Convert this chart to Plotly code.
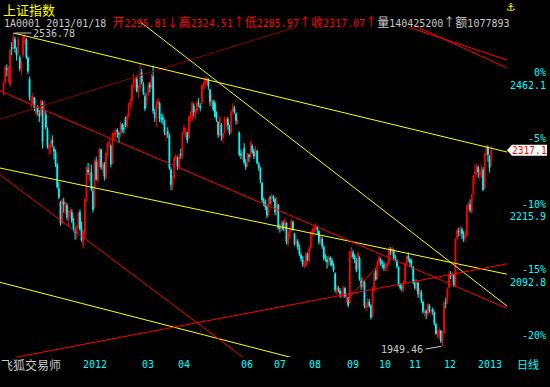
import plotly.graph_objects as go

# ---------------- data ----------------
months = ["2011-10", "2011-11", "2011-12", "2012-01", "2012-02", "2012-03", "2012-04",
          "2012-05", "2012-06", "2012-07", "2012-08", "2012-09", "2012-10", "2012-11",
          "2012-12", "2013-01"]
trade_days = [
    [27, 28, 31],
    [1, 2, 3, 4, 7, 8, 9, 10, 11, 14, 15, 16, 17, 18, 21, 22, 23, 24, 25, 28, 29, 30],
    [1, 2, 5, 6, 7, 8, 9, 12, 13, 14, 15, 16, 19, 20, 21, 22, 23, 26, 27, 28, 29, 30],
    [4, 5, 6, 9, 10, 11, 12, 13, 16, 17, 18, 19, 20, 30, 31],
    [1, 2, 3, 6, 7, 8, 9, 10, 13, 14, 15, 16, 17, 20, 21, 22, 23, 24, 27, 28, 29],
    [1, 2, 5, 6, 7, 8, 9, 12, 13, 14, 15, 16, 19, 20, 21, 22, 23, 26, 27, 28, 29, 30],
    [5, 6, 9, 10, 11, 12, 13, 16, 17, 18, 19, 20, 23, 24, 25, 26, 27],
    [2, 3, 4, 7, 8, 9, 10, 11, 14, 15, 16, 17, 18, 21, 22, 23, 24, 25, 28, 29, 30, 31],
    [1, 4, 5, 6, 7, 8, 11, 12, 13, 14, 15, 18, 19, 20, 21, 25, 26, 27, 28, 29],
    [2, 3, 4, 5, 6, 9, 10, 11, 12, 13, 16, 17, 18, 19, 20, 23, 24, 25, 26, 27, 30, 31],
    [1, 2, 3, 6, 7, 8, 9, 10, 13, 14, 15, 16, 17, 20, 21, 22, 23, 24, 27, 28, 29, 30, 31],
    [3, 4, 5, 6, 7, 10, 11, 12, 13, 14, 17, 18, 19, 20, 21, 24, 25, 26, 27, 28],
    [8, 9, 10, 11, 12, 15, 16, 17, 18, 19, 22, 23, 24, 25, 26, 29, 30, 31],
    [1, 2, 5, 6, 7, 8, 9, 12, 13, 14, 15, 16, 19, 20, 21, 22, 23, 26, 27, 28, 29, 30],
    [3, 4, 5, 6, 7, 10, 11, 12, 13, 14, 17, 18, 19, 20, 21, 24, 25, 26, 27, 28, 31],
    [4, 7, 8, 9, 10, 11, 14, 15, 16, 17, 18],
]

opens = [
    2430, 2445, 2470,
    2460, 2440, 2510, 2512, 2525, 2505, 2500, 2490, 2468, 2495, 2528, 2525, 2490, 2450, 2410, 2405, 2415, 2385, 2398, 2385, 2383, 2405,
    2385, 2383, 2355, 2320, 2325, 2335, 2320, 2312, 2290, 2245, 2220, 2180, 2220, 2212, 2213, 2185, 2200, 2200, 2183, 2165, 2160, 2173,
    2200, 2168, 2140, 2160, 2225, 2280, 2268, 2275, 2240, 2210, 2295, 2260, 2293, 2318, 2282,
    2290, 2265, 2310, 2330, 2325, 2292, 2345, 2347, 2355, 2348, 2345, 2365, 2358, 2375, 2362, 2380, 2403, 2410, 2440, 2445, 2450,
    2425, 2435, 2462, 2440, 2418, 2400, 2422, 2440, 2435, 2455, 2388, 2375, 2405, 2405, 2375, 2378, 2370, 2345, 2352, 2345, 2280, 2250,
    2265, 2300, 2300, 2285, 2310, 2305, 2352, 2355, 2350, 2340, 2378, 2375, 2400, 2385, 2390, 2405, 2400,
    2405, 2438, 2440, 2445, 2450, 2430, 2405, 2408, 2405, 2382, 2370, 2345, 2365, 2340, 2350, 2372, 2375, 2362, 2350, 2390, 2395, 2385,
    2370, 2350, 2310, 2305, 2320, 2292, 2290, 2308, 2305, 2325, 2315, 2310, 2315, 2290, 2283, 2255, 2222, 2218, 2210, 2195,
    2228, 2225, 2230, 2225, 2200, 2215, 2170, 2168, 2180, 2170, 2180, 2142, 2158, 2168, 2182, 2160, 2142, 2145, 2135, 2120, 2112, 2100,
    2100, 2120, 2110, 2133, 2160, 2165, 2172, 2172, 2165, 2145, 2150, 2135, 2115, 2112, 2105, 2115, 2110, 2100, 2085, 2052, 2058, 2053, 2045,
    2048, 2058, 2040, 2040, 2030, 2128, 2125, 2118, 2110, 2095, 2115, 2072, 2062, 2070, 2022, 2025, 2032, 2025, 2005, 2055,
    2090, 2078, 2108, 2112, 2105, 2102, 2095, 2100, 2105, 2130, 2125, 2130, 2115, 2110, 2097, 2065, 2060, 2055,
    2070, 2105, 2118, 2112, 2108, 2098, 2068, 2058, 2068, 2045, 2050, 2032, 2012, 2015, 2010, 2025, 2015, 2018, 2012, 1990, 1972, 1970,
    1978, 1955, 1975, 2030, 2032, 2060, 2085, 2080, 2082, 2062, 2152, 2165, 2162, 2168, 2158, 2150, 2158, 2212, 2215, 2200, 2235,
    2272, 2275, 2285, 2270, 2272, 2280, 2245, 2310, 2322, 2305, 2295.81,
]
highs = [
    2445, 2476, 2478,
    2475, 2506, 2520, 2536.78, 2530, 2510, 2530, 2495, 2485, 2532, 2535, 2527, 2493, 2455, 2420, 2425, 2417, 2400, 2402, 2392, 2412, 2410,
    2410, 2390, 2360, 2330, 2340, 2345, 2325, 2318, 2293, 2257, 2222, 2226, 2228, 2222, 2218, 2205, 2210, 2206, 2190, 2172, 2178, 2202,
    2206, 2183, 2168, 2226, 2286, 2293, 2285, 2290, 2250, 2300, 2305, 2300, 2322, 2320, 2295,
    2295, 2312, 2332, 2340, 2328, 2350, 2355, 2358, 2358, 2352, 2370, 2368, 2365, 2380, 2385, 2406, 2415, 2440, 2460, 2455, 2457,
    2440, 2478.38, 2470, 2445, 2425, 2425, 2445, 2445, 2460, 2476, 2395, 2410, 2415, 2408, 2385, 2385, 2375, 2355, 2360, 2348, 2285, 2270,
    2305, 2310, 2305, 2310, 2320, 2352, 2365, 2360, 2352, 2382, 2390, 2408, 2405, 2395, 2410, 2415, 2405,
    2440, 2445, 2453, 2455, 2452, 2432, 2420, 2412, 2410, 2390, 2372, 2380, 2368, 2350, 2380, 2378, 2380, 2365, 2392, 2405, 2400, 2388,
    2380, 2352, 2318, 2315, 2330, 2300, 2312, 2310, 2335, 2328, 2320, 2325, 2318, 2295, 2285, 2258, 2228, 2225, 2215, 2228,
    2232, 2235, 2233, 2228, 2230, 2216, 2178, 2185, 2185, 2190, 2182, 2165, 2172, 2188, 2185, 2162, 2155, 2150, 2140, 2125, 2118, 2110,
    2125, 2125, 2135, 2165, 2170, 2175, 2180, 2175, 2167, 2158, 2155, 2138, 2122, 2118, 2120, 2118, 2115, 2105, 2088, 2065, 2062, 2058, 2055,
    2062, 2060, 2048, 2042, 2128, 2135, 2130, 2122, 2115, 2126, 2118, 2078, 2080, 2072, 2032, 2040, 2038, 2028, 2060, 2090,
    2095, 2110, 2120, 2115, 2110, 2108, 2105, 2108, 2135, 2135, 2138, 2132, 2120, 2112, 2099, 2068, 2065, 2072,
    2106, 2120, 2125, 2115, 2112, 2100, 2075, 2075, 2070, 2058, 2055, 2035, 2020, 2018, 2030, 2028, 2020, 2022, 2015, 1993, 1980, 1985,
    1980, 1978, 2035, 2040, 2060, 2090, 2090, 2088, 2085, 2152, 2170, 2172, 2175, 2172, 2165, 2165, 2215, 2220, 2225, 2235, 2270,
    2290, 2292, 2288, 2282, 2290, 2285, 2312, 2327, 2326, 2308, 2324.51,
]
lows = [
    2420, 2440, 2455,
    2444, 2435, 2495, 2505, 2500, 2485, 2495, 2465, 2458, 2490, 2515, 2488, 2460, 2410, 2395, 2400, 2390, 2380, 2383, 2370, 2380, 2320,
    2375, 2355, 2320, 2308, 2310, 2322, 2300, 2285, 2245, 2225, 2175, 2178, 2200, 2198, 2185, 2175, 2190, 2180, 2165, 2149, 2150, 2170,
    2165, 2145, 2132.63, 2150, 2220, 2270, 2258, 2240, 2200, 2208, 2260, 2255, 2285, 2280, 2275,
    2260, 2262, 2305, 2322, 2285, 2290, 2338, 2340, 2340, 2330, 2342, 2350, 2348, 2360, 2358, 2378, 2395, 2405, 2435, 2430, 2425,
    2415, 2432, 2440, 2420, 2390, 2398, 2418, 2425, 2432, 2385, 2370, 2360, 2395, 2370, 2368, 2365, 2345, 2335, 2340, 2280, 2242, 2242,
    2262, 2295, 2280, 2280, 2300, 2300, 2345, 2340, 2330, 2338, 2370, 2372, 2380, 2375, 2385, 2398, 2390,
    2403, 2430, 2432, 2438, 2430, 2400, 2398, 2390, 2378, 2370, 2340, 2342, 2335, 2330, 2348, 2360, 2355, 2345, 2348, 2385, 2385, 2365,
    2365, 2305, 2300, 2298, 2290, 2280, 2285, 2295, 2302, 2310, 2300, 2305, 2290, 2278, 2255, 2220, 2212, 2205, 2190, 2192,
    2215, 2215, 2220, 2195, 2195, 2168, 2162, 2165, 2165, 2165, 2140, 2135, 2150, 2165, 2165, 2138, 2135, 2130, 2118, 2108, 2098, 2095,
    2098, 2108, 2105, 2130, 2155, 2160, 2165, 2160, 2140, 2140, 2132, 2110, 2108, 2095, 2100, 2100, 2098, 2088, 2050, 2045, 2050, 2040, 2040,
    2040, 2040, 2032, 2022, 2028, 2115, 2112, 2105, 2088, 2092, 2072, 2055, 2058, 2020, 2015, 2020, 2022, 1999, 2003, 2050,
    2072, 2075, 2100, 2100, 2095, 2090, 2090, 2090, 2102, 2120, 2118, 2110, 2108, 2095, 2062, 2055, 2052, 2050,
    2068, 2100, 2108, 2098, 2095, 2065, 2055, 2052, 2040, 2040, 2030, 2010, 2005, 2000, 2005, 2012, 2008, 2008, 1988, 1970, 1965, 1962,
    1955, 1949.46, 1972, 2020, 2028, 2058, 2075, 2070, 2060, 2060, 2148, 2155, 2155, 2150, 2145, 2145, 2155, 2205, 2200, 2198, 2232,
    2256, 2270, 2265, 2260, 2265, 2240, 2243, 2305, 2295, 2275, 2285.97,
]
closes = [
    2441, 2473, 2468,
    2470, 2505, 2507, 2528, 2508, 2495, 2524, 2470, 2481, 2529, 2531, 2491, 2465, 2416, 2412, 2418, 2395, 2397, 2389, 2380, 2409, 2333,
    2387, 2360, 2325, 2326, 2334, 2330, 2315, 2291, 2248, 2228, 2181, 2224, 2215, 2216, 2191, 2201, 2204, 2184, 2170, 2163, 2173, 2199,
    2169, 2148, 2164, 2225, 2285, 2276, 2275, 2244, 2206, 2298, 2263, 2294, 2319, 2285, 2292,
    2268, 2311, 2330, 2331, 2291, 2348, 2349, 2351, 2351, 2347, 2366, 2356, 2357, 2363, 2381, 2404, 2410, 2439, 2447, 2451, 2428,
    2434, 2460, 2445, 2425, 2395, 2420, 2439, 2435, 2454, 2391, 2378, 2405, 2410, 2376, 2375, 2375, 2350, 2349, 2347, 2284, 2252, 2262,
    2303, 2306, 2285, 2305, 2308, 2350, 2359, 2357, 2336, 2380, 2379, 2406, 2388, 2389, 2406, 2404, 2396,
    2438, 2440, 2452, 2451, 2437, 2408, 2411, 2394, 2380, 2374, 2346, 2378, 2344, 2348, 2378, 2374, 2364, 2349, 2389, 2399, 2389, 2372,
    2373, 2309, 2308, 2309, 2294, 2286, 2311, 2305, 2332, 2314, 2306, 2316, 2293, 2284, 2260, 2224, 2217, 2211, 2195, 2226,
    2227, 2229, 2227, 2201, 2224, 2171, 2170, 2182, 2169, 2185, 2145, 2161, 2170, 2184, 2168, 2141, 2148, 2136, 2122, 2114, 2103, 2103,
    2123, 2112, 2132, 2163, 2168, 2171, 2174, 2168, 2145, 2152, 2137, 2115, 2114, 2107, 2116, 2110, 2102, 2092, 2055, 2060, 2055, 2048, 2047,
    2059, 2043, 2043, 2026, 2127, 2128, 2117, 2113, 2092, 2123, 2075, 2062, 2073, 2024, 2026, 2033, 2025, 2004, 2056, 2086,
    2075, 2107, 2116, 2105, 2104, 2096, 2102, 2104, 2131, 2128, 2133, 2115, 2114, 2099, 2066, 2059, 2058, 2069,
    2104, 2117, 2114, 2106, 2105, 2069, 2059, 2070, 2047, 2053, 2035, 2014, 2017, 2011, 2028, 2016, 2017, 2014, 1992, 1973, 1974, 1980,
    1959, 1975, 2031, 2030, 2057, 2083, 2082, 2083, 2063, 2150, 2166, 2164, 2168, 2160, 2153, 2159, 2213, 2214, 2204, 2233, 2269,
    2276, 2285, 2276, 2275, 2283, 2243, 2311, 2325, 2309, 2284, 2317.07,
]

# hand-drawn trend lines: (start bar, start price, end bar, end price)
yellow_lines = [
    (6.0, 2536.78, 309.7, 2313.5),
    (84.0, 2558.0, 309.7, 2024.6),
    (-2.2, 2283.5, 309.7, 2084.3),
    (-2.2, 2069.1, 182.4, 1923.9),
]
red_lines = [
    (-2.2, 2428.0, 309.7, 2020.3),
    (-2.2, 1922.9, 309.7, 2103.8),
    (-2.2, 2270.9, 151.6, 1918.5),
    (210.0, 2030.3, 230.3, 2101.6),
    (249.4, 2547.5, 309.7, 2486.1),
    (255.0, 2547.5, 309.7, 2471.1),
]
darkred_lines = [
    (-2.2, 2375.4, 179.9, 2548.0),
]

# right-hand percentage scale
pct_base = 2462.1
pct_levels = [0, -5, -10, -15, -20]
pct_show_price = [True, False, True, True, False]

# month labels on the time axis
tick_months = ["2012-01", "2012-03", "2012-04", "2012-06", "2012-07", "2012-08",
               "2012-09", "2012-10", "2012-11", "2012-12", "2013-01"]
tick_text = ["2012", "03", "04", "06", "07", "08", "09", "10", "11", "12", "2013"]

header_title = "上证指数"
header_code = "1A0001 2013/01/18"
header_quote = "开2295.81↓高2324.51↑低2285.97↑收2317.07↑"
header_volume = "量140425200↑额1077893"

# ---------------- figure ----------------
dates = [f"{m}-{d:02d}" for m, ds in zip(months, trade_days) for d in ds]
bars = list(range(len(dates)))
assert len(dates) == len(opens) == len(highs) == len(lows) == len(closes)

W, H = 550, 387
ML, MR, MT, MB = 0, 43, 0, 30
PW, PH = W - ML - MR, H - MT - MB
X_RANGE = [-2.2, 309.7]
Y_RANGE = [1929.0, 2598.7]

def pxx(px):
    return (px - ML) / PW

def pxy(py):
    return (H - MB - py) / PH

MONO = "DejaVu Sans Mono, Liberation Mono, monospace"
CJK = "Noto Sans CJK SC"

def mixed(s, color):
    out = []
    for ch in s:
        if ord(ch) > 127:
            out.append(f'<span style="font-family:{CJK};font-size:12px">{ch}</span>')
        else:
            out.append(ch)
    return f'<span style="color:{color}">' + "".join(out) + "</span>"

fig = go.Figure()
fig.add_trace(go.Candlestick(
    x=bars, open=opens, high=highs, low=lows, close=closes,
    increasing=dict(line=dict(color="#ff0000", width=1), fillcolor="#ff0000"),
    decreasing=dict(line=dict(color="#00ffff", width=1), fillcolor="#00ffff"),
    whiskerwidth=0, hoverinfo="skip", showlegend=False,
))

for group, color in ((darkred_lines, "#8c0000"), (yellow_lines, "#ffff00"), (red_lines, "#ff0000")):
    for x0, y0, x1, y1 in group:
        fig.add_trace(go.Scatter(x=[x0, x1], y=[y0, y1], mode="lines",
                                 line=dict(color=color, width=1),
                                 hoverinfo="skip", showlegend=False))

ann = []
# header
ann.append(dict(text=header_title, x=pxx(1), y=pxy(9.5), xref="paper", yref="paper",
                xanchor="left", yanchor="middle", showarrow=False,
                font=dict(family=CJK, size=13, color="#ffff00")))
ann.append(dict(text=mixed(header_code + " ", "#c8c8c8") + mixed(header_quote, "#ff0000")
                + mixed(header_volume, "#c8c8c8"),
                x=pxx(2.3), y=pxy(21), xref="paper", yref="paper",
                xanchor="left", yanchor="middle", showarrow=False,
                font=dict(family=MONO, size=10, color="#c8c8c8")))
ann.append(dict(text="⚓", x=pxx(511.5), y=pxy(7.5), xref="paper", yref="paper",
                xanchor="center", yanchor="middle", showarrow=False,
                font=dict(family="DejaVu Sans", size=11, color="#ffff00")))

# extreme labels
hi_i = max(bars, key=lambda i: highs[i])
lo_i = min(bars, key=lambda i: lows[i])
ann.append(dict(text=f"{highs[hi_i]:.2f}", x=hi_i, y=highs[hi_i], xref="x", yref="y",
                showarrow=True, ax=18, ay=0, arrowhead=0, arrowwidth=1, arrowcolor="#c8c8c8",
                standoff=2, xanchor="left", yanchor="middle",
                font=dict(family=MONO, size=10, color="#c8c8c8")))
ann.append(dict(text=f"{lows[lo_i]:.2f}", x=lo_i, y=lows[lo_i], xref="x", yref="y",
                showarrow=True, ax=-17, ay=3, arrowhead=0, arrowwidth=1, arrowcolor="#c8c8c8",
                standoff=1, xanchor="right", yanchor="middle",
                font=dict(family=MONO, size=10, color="#c8c8c8")))

# right scale
for p, show in zip(pct_levels, pct_show_price):
    lvl = pct_base * (1 + p / 100.0)
    ann.append(dict(text=f"{p}%", x=pxx(548), y=lvl, xref="paper", yref="y",
                    xanchor="right", yanchor="middle", showarrow=False,
                    font=dict(family=MONO, size=10, color="#00ffff")))
    if show:
        ann.append(dict(text=f"{lvl:.1f}", x=pxx(548), y=lvl, xref="paper", yref="y",
                        xanchor="right", yanchor="middle", showarrow=False, yshift=-12.5,
                        font=dict(family=MONO, size=10, color="#00ffff")))

# last price tag
last = closes[-1]
shapes = [dict(type="path", xref="paper", yref="y", xsizemode="pixel", ysizemode="pixel",
               xanchor=1, yanchor=last,
               path="M0,0 L5,5.5 L40,5.5 L40,-5.5 L5,-5.5 Z",
               fillcolor="#ffffff", line=dict(width=0), layer="above")]
ann.append(dict(text=f"{last:.1f}", x=1, y=last, xref="paper", yref="y", xshift=3,
                xanchor="left", yanchor="middle", showarrow=False,
                font=dict(family=MONO, size=9.6, color="#ff0000")))

# time axis
for m, t in zip(tick_months, tick_text):
    i = next(k for k, d in enumerate(dates) if d.startswith(m))
    ann.append(dict(text=t, x=i, y=pxy(364), xref="x", yref="paper", xshift=1.5,
                    xanchor="left", yanchor="middle", showarrow=False,
                    font=dict(family=MONO, size=10, color="#00ffff")))
ann.append(dict(text="飞狐交易师", x=pxx(-1), y=pxy(364), xref="paper", yref="paper",
                xanchor="left", yanchor="middle", showarrow=False,
                font=dict(family=CJK, size=12, color="#c8c8c8")))
ann.append(dict(text="日线", x=pxx(515), y=pxy(364), xref="paper", yref="paper",
                xanchor="left", yanchor="middle", showarrow=False,
                font=dict(family=CJK, size=11, color="#00ffff")))

fig.update_layout(
    width=W, height=H, margin=dict(l=ML, r=MR, t=MT, b=MB),
    paper_bgcolor="#000000", plot_bgcolor="#000000", showlegend=False,
    xaxis=dict(range=X_RANGE, visible=False, rangeslider=dict(visible=False), fixedrange=True),
    yaxis=dict(range=Y_RANGE, visible=False, fixedrange=True),
    annotations=ann, shapes=shapes,
)

fig.write_html("out.html", config={"displayModeBar": False},
               post_script="document.body.style.margin='0px';document.body.style.background='#000';")
